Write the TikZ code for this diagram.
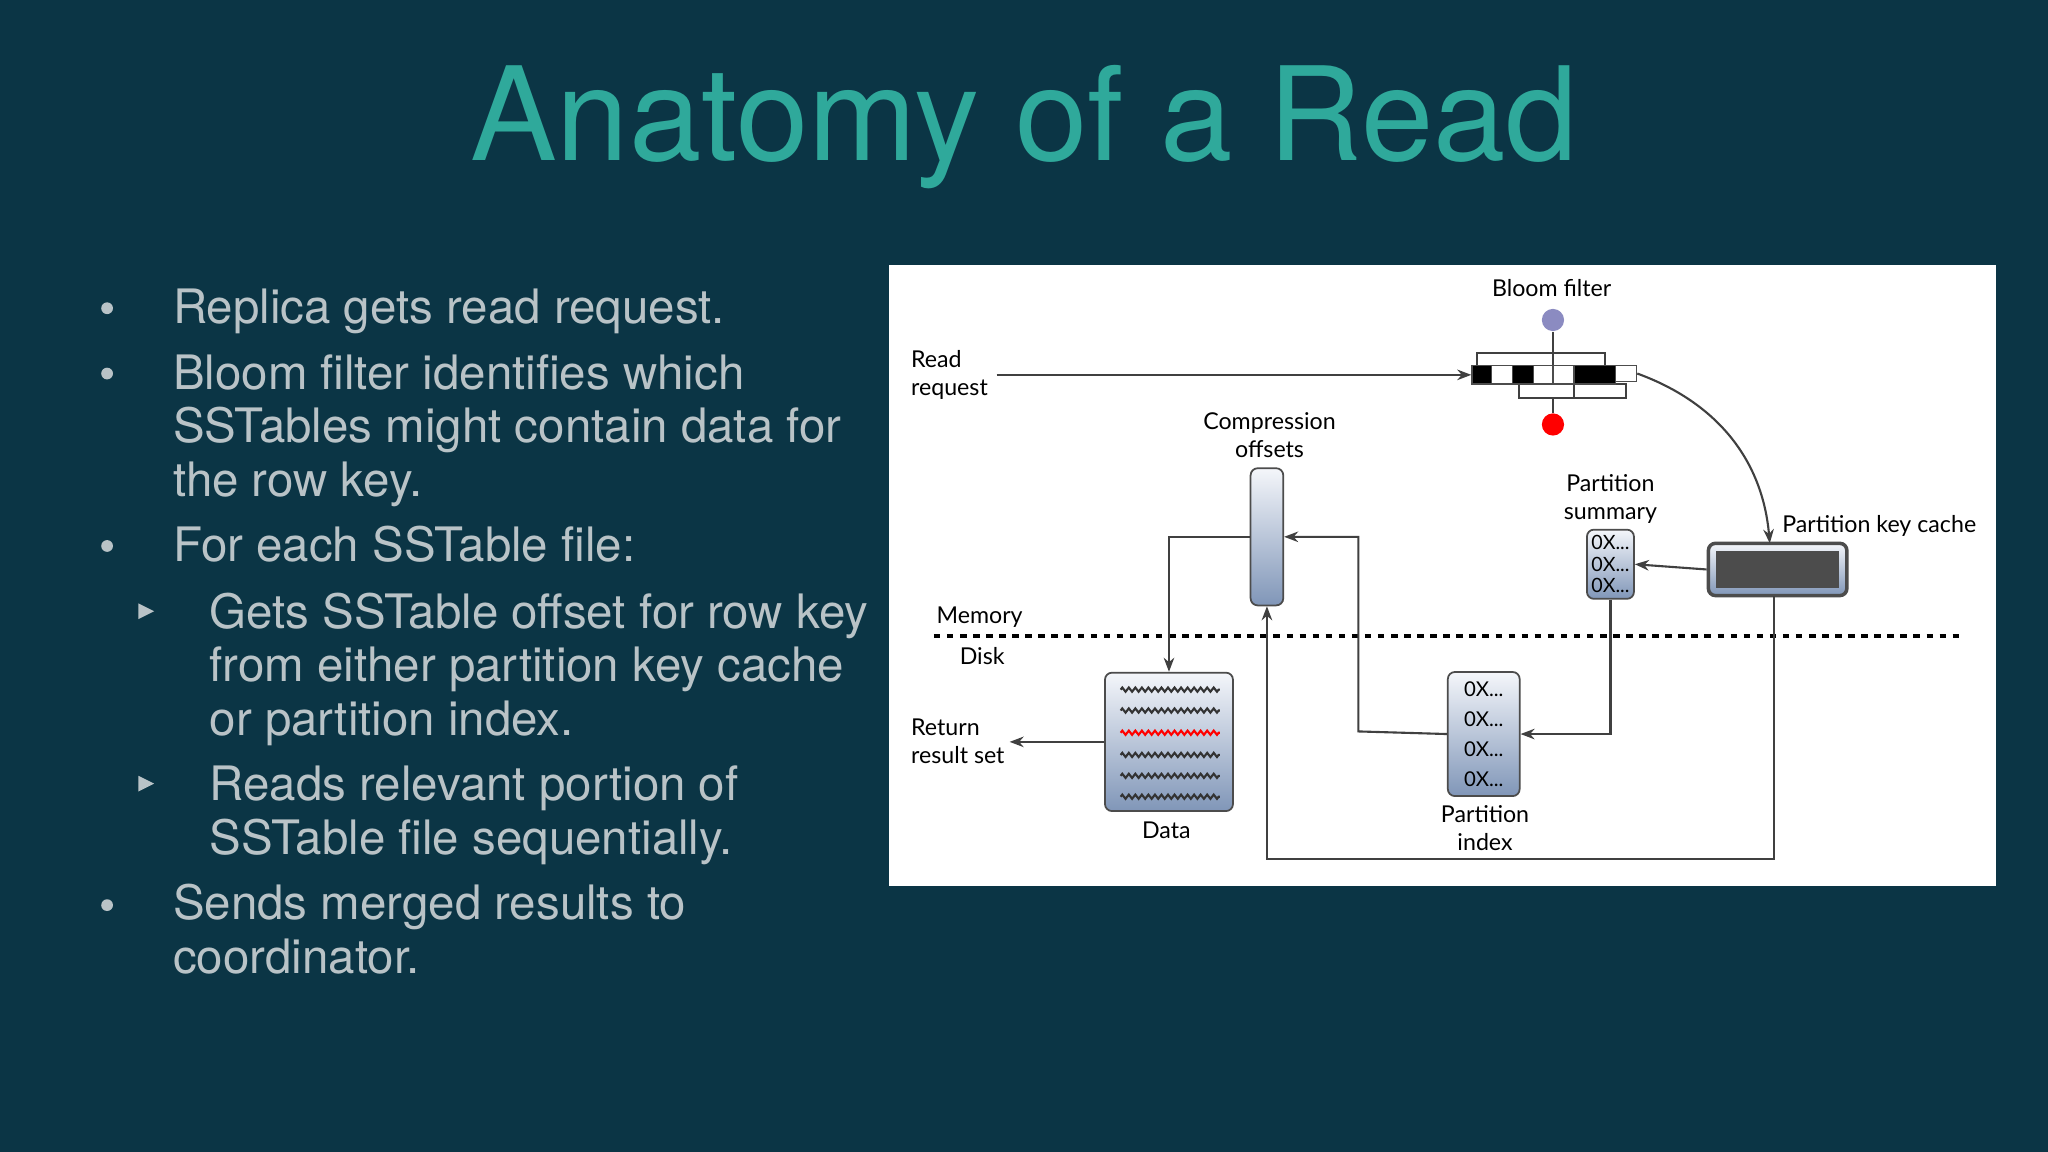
\documentclass[tikz,border=0pt]{standalone}
\usepackage{fontspec}
\setmainfont{TeX Gyre Heros}
\newfontfamily\diafont{Lato}
\usetikzlibrary{positioning,decorations.pathmorphing,arrows.meta}
\definecolor{slidebg}{HTML}{0B3545}
\definecolor{titlecol}{HTML}{2FA99B}
\definecolor{bulletcol}{HTML}{B9C3C7}
\definecolor{boxtop}{HTML}{F4F6FA}
\definecolor{boxbot}{HTML}{8096B8}
\newlength{\pu}
\setlength{\pu}{0.013061cm}
\tikzset{
  bullet/.style={anchor=base west, text=bulletcol, font=\fontsize{13.5}{16}\selectfont},
  dia/.style={font=\diafont\fontsize{6.6}{7.8}\selectfont, align=center, inner sep=0pt},
  store/.style={draw=black!70, rounded corners=2pt, top color=boxtop, bottom color=boxbot, line width=0.5pt},
  cell/.style={draw=black!70, line width=0.4pt, minimum height=14\pu, inner sep=0pt},
  wire/.style={draw=black!75, line width=0.6pt},
  link/.style={wire, -{Stealth[length=4pt,width=3pt]}},
  wave/.style={decorate, decoration={zigzag, segment length=5\pu, amplitude=1.6\pu}, line width=0.6pt}
}
\begin{document}
\begin{tikzpicture}[x=\pu, y=-\pu]
\useasboundingbox (0,0) rectangle (1568,882);
\fill[slidebg] (0,0) rectangle (1568,882);

% title
\node[text=titlecol, font=\fontsize{37}{40}\selectfont] (title) at (784,97) {Anatomy of a Read};

% bullets
\foreach \yy in {236,286,418,693}
  \fill[bulletcol] (82,\yy) circle (4.5);
\foreach \yy in {468,600}
  \fill[bulletcol] (106,\yy-6) -- (118,\yy) -- (106,\yy+6) -- cycle;
\foreach \t/\xx/\yy in {Replica gets read request./123/248,
    Bloom filter identifies which/123/298, SSTables might contain data for/123/339,
    the row key./123/380, For each SSTable file:/123/430,
    Gets SSTable offset for row key/151/481, from either partition key cache/151/522,
    or partition index./151/563, Reads relevant portion of/151/613,
    SSTable file sequentially./151/654, Sends merged results to/123/704,
    coordinator./123/745}
  \node[bullet] at (\xx,\yy) {\t};

% panel
\fill[white] (681,203) rectangle (1528,678);

% bloom filter
\node[dia, anchor=base] (bloomlabel) at (1188,227) {Bloom filter};
\node[circle, fill=blue!30!gray!70, minimum size=17\pu, inner sep=0pt] (hashtop) at (1189,245) {};
\node[circle, fill=red, minimum size=17\pu, inner sep=0pt] (hashbot) at (1189,325) {};
\draw[wire] (1131,270) rectangle (1229,280) (1189,270) -- (1189,280);
\draw[wire] (1163,294) rectangle (1245,305) (1205,294) -- (1205,305);
\draw[wire] (hashtop) -- (1189,270) (1189,305) -- (hashbot);
\foreach \xa/\xb/\c [count=\k] in {1127/1142/black,1142/1158/white,1158/1174/black,1174/1189/white,1189/1205/white,1205/1237/black}
  \node[cell, fill=\c, minimum width=\xb\pu-\xa\pu] (bit-\k) at ({(\xa+\xb)/2},287) {};
\node[cell, fill=white, minimum width=16\pu, minimum height=12\pu] (bit-7) at (1245,286) {};

% labels
\node[dia, align=left, anchor=north west] (readreq) at (697,268) {Read\\request};
\node[dia] (complabel) at (972,333) {Compression\\offsets};
\node[dia] (sumlabel) at (1233,382) {Partition\\summary};
\node[dia, anchor=west] (keylabel) at (1364,403) {Partition key cache};
\node[dia, anchor=base] (memlabel) at (750,477) {Memory};
\node[dia, anchor=base] (disklabel) at (752,509) {Disk};
\node[dia, align=left, anchor=north west] (retlabel) at (697,550) {Return\\result set};
\node[dia] (datalabel) at (893,636) {Data};
\node[dia] (idxlabel) at (1137,634) {Partition\\index};

% stores
\node[store, minimum width=25\pu, minimum height=105\pu, inner sep=0pt] (comp) at (970,411) {};
\node[store, minimum width=106\pu, minimum height=40\pu, inner sep=0pt, line width=1pt] (keycache) at (1361,436) {};
\fill[black!70] (1314,422) rectangle (1408,450);
\node[store, minimum width=36\pu, minimum height=53\pu, inner sep=0pt,
  dia, font=\diafont\fontsize{5.6}{6.6}\selectfont] (summary) at (1233,432) {0X...\\[-0.5pt]0X...\\[-0.5pt]0X...};
\node[store, minimum width=55\pu, minimum height=95\pu, inner sep=0pt,
  dia, font=\diafont\fontsize{5.8}{8.5}\selectfont] (index) at (1136,562) {0X...\\0X...\\0X...\\0X...};
\node[store, minimum width=98\pu, minimum height=106\pu, inner sep=0pt] (data) at (895,568) {};
\foreach \yy/\c in {528/black!80,544/black!80,561/red,578/black!80,594/black!80,610/black!80}
  \draw[wave, draw=\c] (858,\yy) -- (934,\yy);

% memory / disk
\draw[line width=1.3pt, dash pattern=on 5\pu off 5\pu] (715,487) -- (1500,487);

% connectors
\coordinate (rr) at (763,287);
\coordinate (keyin) at (1355,416);
\coordinate (keyout) at (1358,456);
\coordinate (bend) at (1358,658);
\coordinate (ret) at (773,568);
\draw[link] (rr) -- (bit-1.west);
\draw[link] (bit-7.east) to[out=-20, in=95] (keyin);
\draw[link] (keycache.west) -- (summary.east);
\draw[link] (comp.west) -| (data.north);
\draw[link] (index.west) -- (1040,560) |- (comp.east);
\draw[link] (summary.south) |- (index.east);
\draw[link] (keyout) -- (bend) -| (comp.south);
\draw[link] (data.west) -- (ret);
\end{tikzpicture}
\end{document}
